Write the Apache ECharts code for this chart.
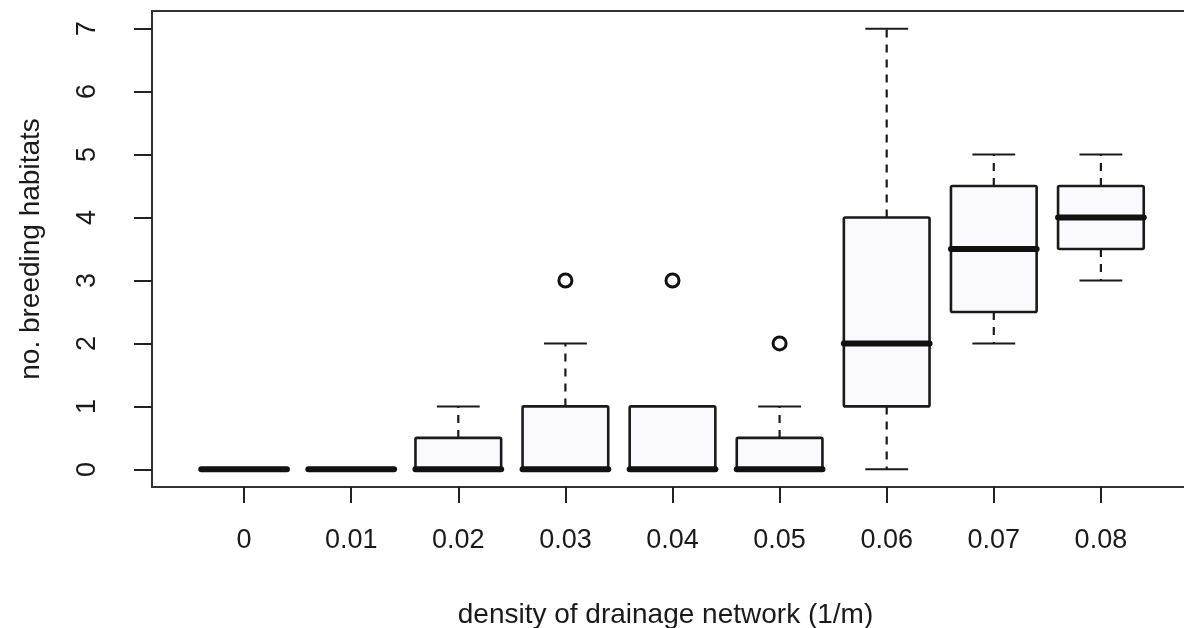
<!DOCTYPE html>
<html>
<head>
<meta charset="utf-8">
<script src="https://cdn.jsdelivr.net/npm/echarts@6/dist/echarts.min.js"></script>
<style>
  html, body { margin: 0; padding: 0; background: #fff; }
  #chart { width: 1184px; height: 628px; }
</style>
</head>
<body>
<div id="chart"></div>
<script>
// Drainage density classes (1/m) shown along the x axis
const categories = ['0', '0.01', '0.02', '0.03', '0.04', '0.05', '0.06', '0.07', '0.08'];
// Five-number summaries per class: [lower whisker, Q1, median, Q3, upper whisker]
const whiskerLow = [0, 0, 0, 0, 0, 0, 0, 2, 3];
const quartile1  = [0, 0, 0, 0, 0, 0, 1, 2.5, 3.5];
const medians    = [0, 0, 0, 0, 0, 0, 2, 3.5, 4];
const quartile3  = [0, 0, 0.5, 1, 1, 0.5, 4, 4.5, 4.5];
const whiskerHigh= [0, 0, 1, 2, 1, 1, 7, 5, 5];
// Outlying observations: [class index (1-based), value]
const outliers = [[4, 3], [5, 3], [6, 2]];
// Y tick labels
const yTicks = [0, 1, 2, 3, 4, 5, 6, 7];

const positions = categories.map((_, i) => i + 1);
const boxData = positions.map((p, i) => [p, whiskerLow[i], quartile1[i], medians[i], quartile3[i], whiskerHigh[i]]);

const FONT = '"Liberation Sans", Arial, Helvetica, sans-serif';
const INK = '#1a1a1a';

// Box-and-whisker glyph: dashed whiskers, half-width staples, thick median bar
function renderBox(params, api) {
  const x = api.value(0);
  const lo = api.value(1), q1 = api.value(2), md = api.value(3), q3 = api.value(4), hi = api.value(5);
  const halfBox = api.size([0.4, 0])[0];
  const halfCap = halfBox / 2;
  const c = api.coord([x, 0])[0];
  const y = v => api.coord([x, v])[1];
  const children = [];
  const dash = { stroke: INK, lineWidth: 2.2, lineDash: [8, 7] };
  const solid = { stroke: INK, lineWidth: 2 };
  if (hi > q3) children.push({ type: 'line', shape: { x1: c, y1: y(q3), x2: c, y2: y(hi) }, style: dash });
  if (lo < q1) children.push({ type: 'line', shape: { x1: c, y1: y(q1), x2: c, y2: y(lo) }, style: dash });
  children.push({ type: 'line', shape: { x1: c - halfCap, y1: y(hi), x2: c + halfCap, y2: y(hi) }, style: solid });
  children.push({ type: 'line', shape: { x1: c - halfCap, y1: y(lo), x2: c + halfCap, y2: y(lo) }, style: solid });
  children.push({
    type: 'rect',
    shape: { x: c - halfBox, y: y(q3), width: 2 * halfBox, height: y(q1) - y(q3), r: 1.5 },
    style: { fill: '#fafafe', stroke: INK, lineWidth: 2.6 }
  });
  children.push({
    type: 'line',
    shape: { x1: c - halfBox, y1: y(md), x2: c + halfBox, y2: y(md) },
    style: { stroke: '#111', lineWidth: 6, lineCap: 'round' }
  });
  return { type: 'group', children: children };
}

const chart = echarts.init(document.getElementById('chart'), null, { renderer: 'canvas' });
chart.setOption({
  animation: false,
  backgroundColor: '#fff',
  grid: {
    left: 152, top: 11, width: 1041, height: 476,
    outerBoundsMode: 'none', containLabel: false,
    show: true, borderColor: '#333', borderWidth: 2, backgroundColor: 'transparent'
  },
  xAxis: {
    type: 'value', min: 0.14, max: 9.86,
    splitLine: { show: false },
    axisLine: { show: false, onZero: false },
    axisTick: { show: true, inside: false, customValues: positions, length: 16, lineStyle: { color: '#222', width: 2 } },
    axisLabel: {
      customValues: positions, margin: 40,
      formatter: v => categories[Math.round(v) - 1] || '',
      color: INK, fontFamily: FONT, fontSize: 27
    },
    name: 'density of drainage network (1/m)',
    nameLocation: 'middle', nameGap: 114,
    nameTextStyle: { color: INK, fontFamily: FONT, fontSize: 28, padding: [0, 14, 0, 0] }
  },
  yAxis: {
    type: 'value', min: -0.28, max: 7.28,
    splitLine: { show: false },
    axisLine: { show: false, onZero: false },
    axisTick: { show: true, inside: false, customValues: yTicks, length: 18, lineStyle: { color: '#222', width: 2 } },
    axisLabel: {
      customValues: yTicks, rotate: 90, margin: 51,
      color: INK, fontFamily: FONT, fontSize: 27
    },
    name: 'no. breeding habitats',
    nameLocation: 'middle', nameGap: 107, nameRotate: 90,
    nameTextStyle: { color: INK, fontFamily: FONT, fontSize: 28 }
  },
  series: [
    {
      type: 'custom',
      renderItem: renderBox,
      data: boxData,
      encode: { x: 0, y: [1, 2, 3, 4, 5] },
      clip: false
    },
    {
      type: 'scatter',
      data: outliers,
      symbol: 'circle',
      symbolSize: 13,
      itemStyle: { color: '#fff', borderColor: '#111', borderWidth: 3, opacity: 1 }
    }
  ]
});
</script>
</body>
</html>
